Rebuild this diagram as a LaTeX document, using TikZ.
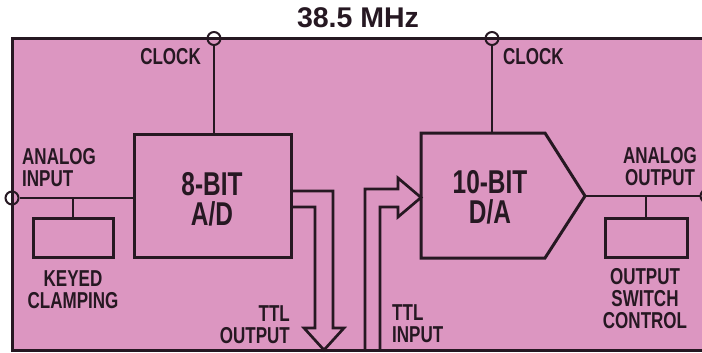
\documentclass[tikz,border=0pt]{standalone}
\usepackage{fontspec}
\setmainfont{Liberation Sans}
\newfontfamily\condf[FakeStretch=0.74]{Liberation Sans}
\definecolor{pinkbg}{RGB}{220,150,193}
\definecolor{ink}{RGB}{38,24,34}
\begin{document}
\begin{tikzpicture}[x=1pt,y=-1pt,
  lbl/.style={font=\condf\bfseries\fontsize{23}{22}\selectfont, text=ink, inner sep=0pt},
  big/.style={font=\condf\bfseries\fontsize{33}{30}\selectfont, text=ink, inner sep=0pt, align=center},
  boxline/.style={draw=ink, line width=3pt},
  blockbox/.style={boxline, rectangle, inner sep=0pt},
  wire/.style={draw=ink, line width=2.3pt},
  fatarrow/.style={draw=ink, line width=2.7pt, line join=miter},
  port/.style={circle, draw=ink, line width=2pt, minimum size=13pt, inner sep=0pt}
]
\useasboundingbox (0,0) rectangle (702,353);
% frame
\draw[boxline, fill=pinkbg] (12,38.5) rectangle (716,350);
% title
\node[font=\bfseries\fontsize{28.5}{30}\selectfont, text=ink, anchor=base, inner sep=0pt] (title) at (358,28) {38.5 MHz};

% blocks
\node[blockbox, minimum width=157pt, minimum height=123pt] (ad) at (212.5,195.5) {};
\node[big, anchor=north] (adtxt) at (212,172) {8-BIT\\A/D};
\node[blockbox, minimum width=80pt, minimum height=39pt] (kc) at (73,237.5) {};
\node[blockbox, minimum width=82pt, minimum height=39pt] (osc) at (646,237.5) {};

\coordinate (dain) at (421,197.5);
\coordinate (datip) at (585,196);
\draw[boxline, line join=miter] (421,133) -- (545,133) -- (datip) -- (545,258) -- (421,258) -- cycle;
\node[big, anchor=north] (datxt) at (490,170) {10-BIT\\D/A};

% ports
\node[port] (clk1) at (214,38.5) {};
\node[port] (clk2) at (492,38.5) {};
\node[port] (ain) at (12,198) {};
\node[port] (aout) at (707,196) {};

% wires
\draw[wire] (clk1.south) -- (clk1 |- ad.north);
\draw[wire] (clk2.south) -- (492,133);
\draw[wire] (ain.east) -- (ain -| ad.west);
\draw[wire] (kc.north) -- (kc.north |- ain);
\draw[wire] (datip) -- (aout.west);
\draw[wire] (osc.north) -- (osc.north |- datip);

% output fat arrow
\draw[fatarrow] (ad.east |- 0,191) -- (333,191) -- (333,328) -- (344,328) -- (324,350)
  -- (304,328) -- (315,328) -- (315,207) -- (ad.east |- 0,207);
% input fat arrow
\draw[fatarrow] (365,350) -- (365,189) -- (398,189) -- (398,178) -- (dain)
  -- (398,217) -- (398,207) -- (380,207) -- (380,350);

% labels
\node[lbl, anchor=base east] (clkl1) at (201,65) {CLOCK};
\node[lbl, anchor=base west] (clkl2) at (503,65) {CLOCK};
\node[lbl, anchor=north west, align=left] (ainl) at (22,148) {ANALOG\\INPUT};
\node[lbl, anchor=north, align=center] (kcl) at (73,270) {KEYED\\CLAMPING};
\node[lbl, anchor=north east, align=right] (ttlo) at (290,305) {TTL\\OUTPUT};
\node[lbl, anchor=north west, align=left] (ttli) at (392,304) {TTL\\INPUT};
\node[lbl, anchor=north, align=center] (aoutl) at (660,147) {ANALOG\\OUTPUT};
\node[lbl, anchor=north, align=center] (oscl) at (645,268) {OUTPUT\\SWITCH\\CONTROL};
\end{tikzpicture}
\end{document}
